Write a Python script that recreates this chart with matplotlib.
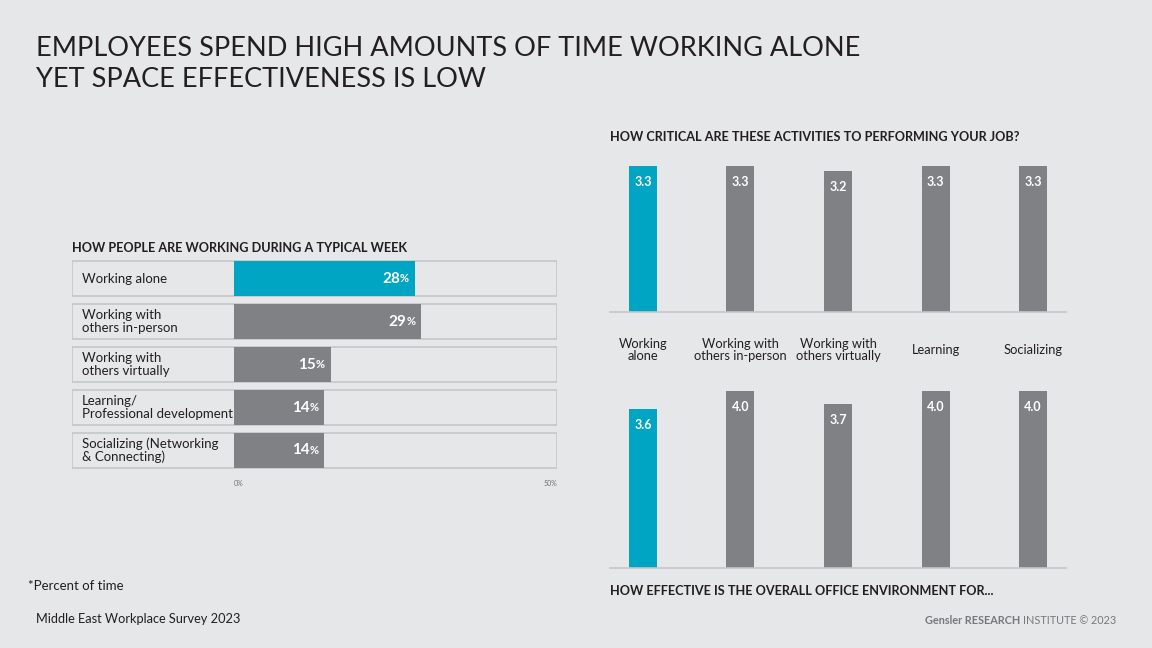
import matplotlib
matplotlib.use("Agg")
from matplotlib import pyplot as plt
from matplotlib.transforms import blended_transform_factory
from matplotlib.text import Annotation

# data
week_labels = ["Working alone", "Working with\nothers in-person", "Working with\nothers virtually",
               "Learning/\nProfessional development", "Socializing (Networking\n& Connecting)"]
week_pct = [28, 29, 15, 14, 14]

act_labels = ["Working\nalone", "Working with\nothers in-person", "Working with\nothers virtually",
              "Learning", "Socializing"]
critical = [3.3, 3.3, 3.2, 3.3, 3.3]
effective = [3.6, 4.0, 3.7, 4.0, 4.0]

BG = "#e6e7e9"
TEAL = "#00a5c3"
GRAY = "#808184"
EDGE = "#c5c6c8"
TXT = "#231f20"

plt.rcParams['font.family'] = ['Lato', 'DejaVu Sans']

W, H = 1152, 648
fig = plt.figure(figsize=(W / 100, H / 100), dpi=100, facecolor=BG)

def px_axes(x0, y0, x1, y1):
    # pixel box (top-left origin) -> axes
    return fig.add_axes([x0 / W, 1 - y1 / H, (x1 - x0) / W, (y1 - y0) / H])

def ftext(x, y, s, **kw):
    return fig.text(x / W, 1 - y / H, s, **kw)

# title
ftext(36, 64, "EMPLOYEES SPEND HIGH AMOUNTS OF TIME WORKING ALONE\nYET SPACE EFFECTIVENESS IS LOW",
      fontsize=19.5, color=TXT, va="center", ha="left", linespacing=1.27, fontweight="normal")

# ---- left: horizontal bars
ax = px_axes(72, 257, 557, 472)
ax.set_facecolor("none")
xmin = -25.08
ax.set_xlim(xmin, 50)
ax.set_ylim(4.5, -0.5)
ys = list(range(len(week_pct)))
ax.barh(ys, [50 - xmin] * len(ys), left=xmin, height=0.81, facecolor="none",
        edgecolor=EDGE, linewidth=1.2)
cols = [TEAL] + [GRAY] * (len(week_pct) - 1)
ax.barh(ys, week_pct, height=0.81, color=cols, linewidth=0)
for y, lab, v in zip(ys, week_labels, week_pct):
    ax.text(xmin + 1.55, y, lab, fontsize=9.5, color=TXT, va="center", ha="left", linespacing=1.05)
    p = ax.annotate("%", xy=(v, y), xytext=(-6, 0), textcoords="offset pixels",
                    fontsize=8, color="white", fontweight="bold", ha="right", va="center")
    ax.annotate(str(v), xy=(0, 0.5), xycoords=p, fontsize=11, color="white",
                fontweight="bold", ha="right", va="center")
for s in ax.spines.values():
    s.set_visible(False)
ax.set_xticks([])
ax.set_yticks([])
ftext(234, 483, "0%", fontsize=5, color="#6d6e71", ha="left", va="center")
ftext(557, 483, "50%", fontsize=5, color="#6d6e71", ha="right", va="center")
ftext(72, 248, "HOW PEOPLE ARE WORKING DURING A TYPICAL WEEK", fontsize=9.1,
      fontweight="bold", color=TXT, ha="left", va="center")

# ---- right: two column charts
UNIT = 44.2
def columns(top, base, vals, show_labels):
    a = px_axes(610, top, 1066, base)
    a.set_facecolor("none")
    xs = list(range(len(vals)))
    a.set_xlim(-0.338, 4.338)
    a.set_ylim(0, (base - top) / UNIT)
    a.bar(xs, vals, width=0.287, color=[TEAL] + [GRAY] * (len(vals) - 1), linewidth=0)
    for x, v in zip(xs, vals):
        a.annotate("%.1f" % v, xy=(x, v), xytext=(0, -16), textcoords="offset pixels",
                   fontsize=9, fontweight="bold", color="white", ha="center", va="center")
    for k in ["top", "left", "right"]:
        a.spines[k].set_visible(False)
    a.spines["bottom"].set_color(EDGE)
    a.spines["bottom"].set_linewidth(1.2)
    a.set_xticks([])
    a.set_yticks([])
    if show_labels:
        tr = blended_transform_factory(a.transData, a.transAxes)
        yy = -38 / (base - top)
        for x, lab in zip(xs, act_labels):
            a.text(x, yy, lab, transform=tr, fontsize=9.3, color=TXT, ha="center",
                   va="center", linespacing=1.05)
    return a

columns(150, 312, critical, True)
columns(380, 568, effective, False)
ftext(610, 137, "HOW CRITICAL ARE THESE ACTIVITIES TO PERFORMING YOUR JOB?", fontsize=9.1,
      fontweight="bold", color=TXT, ha="left", va="center")
ftext(610, 591, "HOW EFFECTIVE IS THE OVERALL OFFICE ENVIRONMENT FOR...", fontsize=9.1,
      fontweight="bold", color=TXT, ha="left", va="center")

# footer
ftext(28, 586, "*Percent of time", fontsize=9.5, color=TXT, ha="left", va="center")
ftext(36, 619, "Middle East Workplace Survey 2023", fontsize=9.2, color=TXT, ha="left", va="center")
t = ftext(1116, 620, "INSTITUTE \u00a9 2023", fontsize=7.8, color="#77787b", ha="right", va="center")
fig.add_artist(Annotation("Gensler RESEARCH ", xy=(0, 0.5), xycoords=t, fontsize=7.8,
                          fontweight="bold", color="#77787b", ha="right", va="center"))

fig.savefig("out.png", dpi=100, facecolor=BG)
